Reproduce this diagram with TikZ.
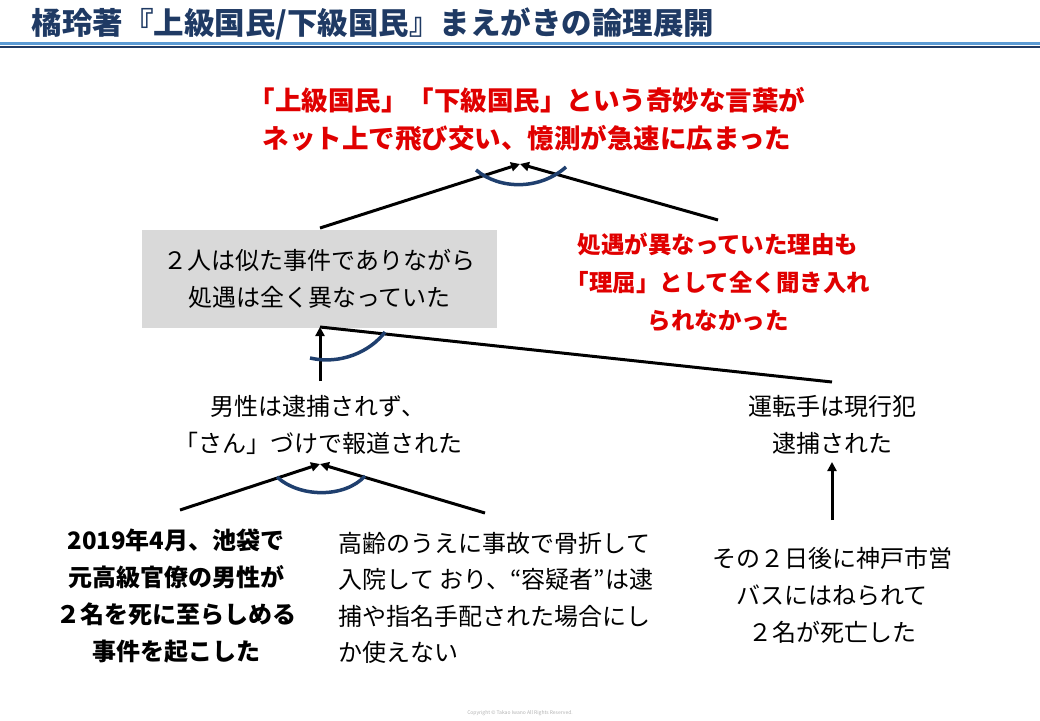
\documentclass[tikz,border=0pt]{standalone}
\usepackage{fontspec}
\setmainfont{Noto Sans CJK JP}
\usetikzlibrary{arrows.meta}
\definecolor{navy}{HTML}{1F3A64}
\definecolor{arcb}{HTML}{1F3F6E}
\definecolor{lblue}{HTML}{5B9BD5}
\definecolor{red1}{HTML}{E00000}
\begin{document}
\begin{tikzpicture}[x=1pt,y=-1pt,
  ln/.style={line width=3pt,-{Triangle[length=9pt,width=9pt]}},
  arc/.style={line width=3.5pt,arcb},
  body/.style={font=\fontsize{24}{37}\selectfont,align=center},
  redt/.style={font=\fontsize{23.5}{38}\selectfont\bfseries,text=red1,align=center},
]
\useasboundingbox (0,0) rectangle (1040,720);
\node[anchor=west,text=navy,font=\fontsize{30.5}{32}\selectfont\bfseries] (title) at (28,24) {橘玲著『上級国民/下級国民』まえがきの論理展開};
\fill[lblue] (0,42) rectangle (1040,44.5);
\fill[navy] (0,45.5) rectangle (1040,48);

\node[redt,font=\fontsize{26.5}{38}\selectfont\bfseries] (top) at (527,119) {「上級国民」「下級国民」という奇妙な言葉が\\ネット上で飛び交い、憶測が急速に広まった};
\coordinate (a1) at (520,164);
\node[fill=gray!30,minimum width=355pt,minimum height=98pt,body] (box) at (319.5,279) {２人は似た事件でありながら\\処遇は全く異なっていた};
\node[redt] (r1) at (718,282) {処遇が異なっていた理由も\\「理屈」として全く聞き入れ\\られなかった};
\coordinate (b1) at (320,228);
\coordinate (b2) at (718,220);
\draw[ln] (b1) -- (a1);
\draw[ln] (b2) -- (a1);
\draw[arc] (476,170) .. controls (500,190) and (540,190) .. (566,167);

\coordinate (a2) at (320,327);
\node[body] (m1) at (318,425) {男性は逮捕されず、\\「さん」づけで報道された};
\node[body] (d1) at (832,425) {運転手は現行犯\\逮捕された};
\coordinate (c1) at (320,381);
\coordinate (c2) at (832,382);
\draw[ln] (c1) -- (a2);
\draw[line width=3pt] (c2) -- (a2);
\draw[arc] (310,358) .. controls (340,365) and (370,352) .. (385,332);

\coordinate (a3) at (320,464);
\node[body,font=\fontsize{24}{37}\selectfont\bfseries] (l1) at (176,596) {2019年4月、池袋で\\元高級官僚の男性が\\２名を死に至らしめる\\事件を起こした};
\node[body,align=left,font=\fontsize{24}{36.5}\selectfont] (l2) at (496,598) {高齢のうえに事故で骨折して\\入院して おり、“容疑者”は逮\\捕や指名手配された場合にし\\か使えない};
\node[body] (l3) at (832,595) {その２日後に神戸市営\\バスにはねられて\\２名が死亡した};
\coordinate (e1) at (180,510);
\coordinate (e2) at (485,513);
\coordinate (e3) at (832,520);
\draw[ln] (e1) -- (a3);
\draw[ln] (e2) -- (a3);
\draw[ln] (e3) -- (832,462);
\draw[arc] (277,477) .. controls (300,498) and (345,498) .. (365,476);

\node[text=gray!60,font=\fontsize{5}{6}\selectfont] (copy) at (520,713) {Copyright © Takao Iwano All Rights Reserved.};
\end{tikzpicture}
\end{document}
